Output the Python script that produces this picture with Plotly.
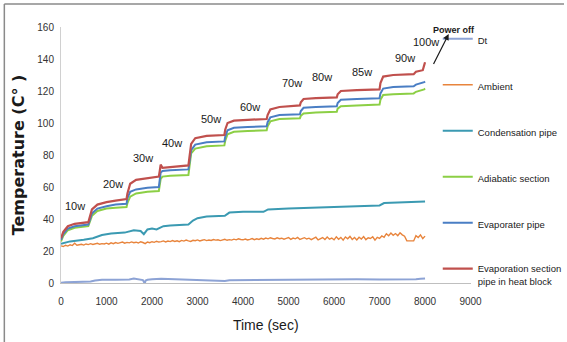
import plotly.graph_objects as go

# ---------------- data ----------------
step_time = [0, 50, 150, 300, 600, 620, 680, 800, 1000, 1200, 1440, 1460, 1520, 1650, 1900,
             2150, 2170, 2190, 2230, 2400, 2800, 2820, 2860, 2950, 3200, 3590, 3610, 3660,
             3800, 4100, 4520, 4540, 4600, 4800, 5250, 5270, 5330, 5600, 6060, 6080, 6150,
             6500, 7000, 7020, 7080, 7300, 7750, 7800, 7950, 7980, 8000]

evap_block = [28, 32, 35.5, 37, 38, 40, 46, 49, 50.5, 51.5, 52.5, 56, 62, 64.5, 65.5,
              66.5, 70, 74, 72, 72.5, 73.5, 78, 87, 90.5, 92, 92.5, 96, 100,
              101.5, 102, 102.5, 105, 108.5, 110, 111, 113, 115, 115.5, 116, 118, 120,
              120.5, 121, 125, 129, 130, 130.5, 132, 133, 136, 138]

evap_pipe = [27, 30.5, 34, 35.5, 36.5, 38, 43.5, 46.5, 48, 49, 49.5, 53, 57, 58.5, 59.5,
             60, 64, 69, 70, 70.5, 71, 75, 83, 86.5, 88, 88.5, 91.5, 95.5,
             97, 97.5, 98, 100.5, 103.5, 105, 105.5, 107.5, 109.5, 110, 110.5, 112.5, 114.5,
             115, 115.5, 118.5, 121.5, 122.5, 123, 124, 125, 125.5, 126]

adiabatic = [26, 29.5, 33, 34.5, 35.5, 37, 42, 45, 46.5, 47, 47.5, 50, 54, 56, 57,
             57.5, 61, 65, 66.5, 67, 67.5, 72, 81, 84, 85.5, 86, 89, 93,
             94.5, 95, 95.5, 98, 101, 102.5, 103, 104.5, 106, 106.5, 107, 109, 110.5,
             111, 111.5, 114.5, 117.5, 118, 118.5, 119.5, 120.5, 121, 121.5]

cond_time = [0, 200, 500, 700, 900, 1100, 1400, 1600, 1750, 1820, 1900, 2000, 2100, 2250,
             2400, 2800, 2900, 3000, 3200, 3600, 3700, 4000, 4450, 4550, 5000, 5500, 6000,
             6500, 7000, 7100, 7500, 8000]
cond_pipe = [24.5, 26, 27, 28, 30, 31, 31.5, 33, 32.5, 30.5, 33.5, 34, 33.5, 35.5,
             36, 36.5, 39, 40.5, 41.5, 42, 44, 44.5, 44.5, 46, 46.5, 47, 47.5,
             48, 48.5, 50, 50.5, 51]

amb_time = list(range(0, 8001, 50))
ambient = [
    23.2, 22.8, 23.6, 23.1, 23.9, 23.4, 24.8, 23.6, 23.9, 24.2, 23.7, 24.4, 24.0, 24.6, 24.1, 24.3, 24.8, 24.2, 24.6, 24.4,
    24.9, 24.3, 25.1, 24.6, 25.3, 24.8, 25.0, 25.6, 24.9, 25.4, 25.1, 25.7, 25.2, 25.5, 25.0, 25.8, 25.3, 24.6, 25.6, 25.2,
    25.8, 25.4, 26.1, 25.6, 25.9, 26.3, 25.7, 26.2, 25.9, 26.5, 26.0, 26.4, 25.8, 26.6, 26.2, 26.8, 26.3, 26.0, 26.7, 26.4,
    26.9, 26.3, 26.7, 27.1, 26.5, 26.9, 26.6, 27.2, 26.8, 27.0, 26.5, 26.9, 27.3, 26.7, 27.1, 26.8, 27.4, 27.0, 27.6, 27.2,
    27.0, 27.5, 26.9, 27.3, 27.8, 27.1, 27.6, 27.2, 27.9, 27.4, 28.1, 27.6, 28.3, 27.8, 27.5, 28.2, 27.7, 28.0, 27.4, 27.9,
    28.4, 27.3, 28.1, 27.6, 28.5, 27.2, 27.9, 28.3, 27.5, 28.0, 27.1, 27.8, 28.6, 26.9, 27.7, 28.4, 27.2, 28.7, 27.4, 28.1,
    27.0, 28.9, 27.3, 28.5, 26.8, 28.8, 27.6, 29.1, 27.2, 28.4, 26.9, 28.6, 27.5, 29.0, 27.1, 28.3, 27.8, 28.9, 26.8, 28.5,
    27.9, 29.4, 28.6, 30.8, 29.5, 31.2, 29.8, 30.9, 29.6, 31.4, 30.1, 29.2, 26.3, 26.2, 26.2, 26.3, 29.6, 28.4, 30.1, 27.8,
    29.3]

dt_time = [0, 100, 300, 500, 650, 750, 900, 1200, 1500, 1600, 1700, 1800, 1840, 1860, 1900,
           2000, 2200, 2500, 2800, 3000, 3300, 3600, 3700, 4000, 4500, 5000, 5500, 6000,
           6500, 7000, 7500, 7800, 7900, 8000]
dt_vals = [0.2, 0.5, 0.6, 0.7, 0.9, 1.5, 2.0, 2.1, 2.2, 2.8, 2.5, 1.8, -0.3, 1.6, 2.0,
           2.4, 2.6, 2.3, 2.1, 1.9, 1.7, 1.2, 1.7, 1.8, 1.9, 2.1, 2.2, 2.4,
           2.3, 2.2, 2.0, 2.3, 2.6, 2.8]

power_labels = ["10w", "20w", "30w", "40w", "50w", "60w", "70w", "80w", "85w", "90w", "100w"]
label_time = [306, 1136, 1791, 2446, 3298, 4150, 5068, 5745, 6619, 7558, 8017]
label_temp = [48, 62, 78, 87.5, 102.5, 110, 125, 128.7, 132, 140.6, 150.6]

x_ticks = [0, 1000, 2000, 3000, 4000, 5000, 6000, 7000, 8000, 9000]
y_ticks = [0, 20, 40, 60, 80, 100, 120, 140, 160]

FONT = "Liberation Sans, Arial, sans-serif"

# layout geometry (pixels)
W, H = 567, 342
ML, MR, MT, MB = 61, 0, 27, 59
PAPER_W = W - ML - MR
PAPER_H = H - MT - MB
AXIS_W = 412


def px_x(p):
    return (p - ML) / PAPER_W


def px_y(p):
    return (H - MB - p) / PAPER_H


fig = go.Figure()

series = [
    ("Dt", dt_time, dt_vals, "#8DA3D5", 2),
    ("Ambient", amb_time, ambient, "#E8843C", 1.4),
    ("Condensation pipe", cond_time, cond_pipe, "#3B9AB2", 2),
    ("Adiabatic section", step_time, adiabatic, "#8CCF45", 2),
    ("Evaporater pipe", step_time, evap_pipe, "#4A7EC4", 2),
    ("Evaporation section<br>pipe in heat block", step_time, evap_block, "#C0504D", 2.2),
]
for i, (name, xs, ys, col, w) in enumerate(series):
    fig.add_trace(go.Scatter(x=xs, y=ys, mode="lines", name=name, legendgroup=f"g{i}",
                             line=dict(color=col, width=w)))

for lab, tx, ty in zip(power_labels, label_time, label_temp):
    fig.add_annotation(x=tx, y=ty, text=lab, showarrow=False,
                       font=dict(family=FONT, size=11, color="#1a1a1a"))

fig.add_annotation(x=8628, y=px_y(23), xref="x", yref="paper", text="<b>Power off</b>",
                   showarrow=False, font=dict(family=FONT, size=9, color="#1a1a1a"))
fig.add_annotation(x=8519, y=155.6, ax=8170, ay=136, xref="x", yref="y", axref="x", ayref="y",
                   text="", showarrow=True, arrowhead=2, arrowsize=1, arrowwidth=1.2,
                   arrowcolor="#1a1a1a")

# figure frame (top and left edges visible)
fig.add_shape(type="line", xref="paper", yref="paper", x0=px_x(4), x1=px_x(567),
              y0=px_y(4), y1=px_y(4), line=dict(color="#8a8a8a", width=1.5))
fig.add_shape(type="line", xref="paper", yref="paper", x0=px_x(4), x1=px_x(4),
              y0=px_y(4), y1=px_y(342), line=dict(color="#8a8a8a", width=1.5))

fig.update_layout(
    width=W, height=H,
    margin=dict(l=ML, r=MR, t=MT, b=MB),
    paper_bgcolor="white", plot_bgcolor="white",
    showlegend=True,
    legend=dict(x=px_x(440), xanchor="left", y=px_y(26), yanchor="top",
                tracegroupgap=27, maxheight=400,
                valign="top", bgcolor="rgba(0,0,0,0)",
                font=dict(family=FONT, size=9.5, color="#1a1a1a")),
    xaxis=dict(domain=[0, AXIS_W / PAPER_W], range=[0, 9000], tickvals=x_ticks,
               showgrid=False, zeroline=False, automargin=False,
               showline=True, linecolor="#BFBFBF", linewidth=1,
               ticks="outside", ticklen=9, tickcolor="rgba(0,0,0,0)",
               tickfont=dict(family=FONT, size=10, color="#333333"),
               title=dict(text="Time (sec)", standoff=14,
                          font=dict(family=FONT, size=14, color="#1a1a1a"))),
    yaxis=dict(range=[0, 160], tickvals=y_ticks, showgrid=False, zeroline=False,
               automargin=False,
               showline=True, linecolor="#D0D0D0", linewidth=1,
               ticks="outside", ticklen=4, tickcolor="rgba(0,0,0,0)",
               tickfont=dict(family=FONT, size=10, color="#333333"),
               title=dict(text="<b>Temperature (C° )</b>", standoff=8,
                          font=dict(family="DejaVu Sans", size=16, color="#1a1a1a"))),
)

fig.write_html("out.html", config={"displayModeBar": False},
               post_script="document.body.style.margin='0';document.body.style.padding='0';")
